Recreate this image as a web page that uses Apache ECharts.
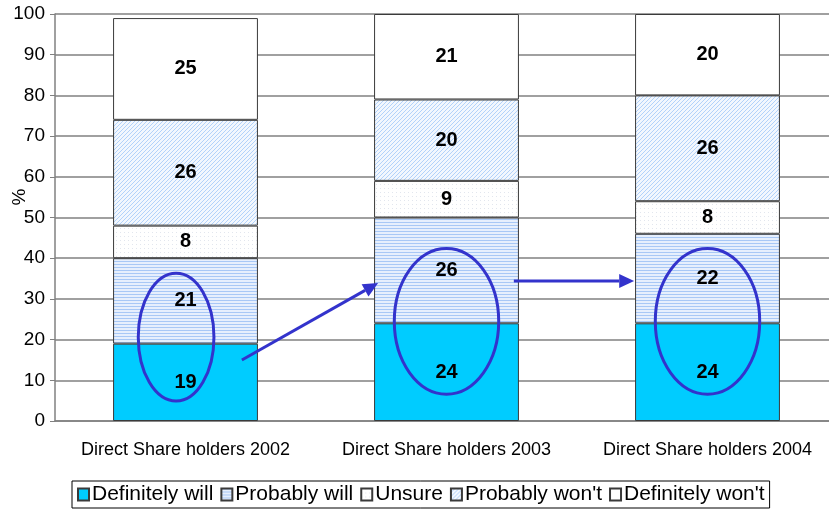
<!DOCTYPE html>
<html lang="en">
<head>
<meta charset="UTF-8">
<title>Direct share holders</title>
<script src="https://cdn.jsdelivr.net/npm/echarts@6/dist/echarts.min.js"></script>
<style>
  html, body { margin: 0; padding: 0; background: #fff; }
  #main { width: 829px; height: 510px; }
</style>
</head>
<body>
<div id="main"></div>
<script type="text/javascript">
var categories = ['Direct Share holders 2002', 'Direct Share holders 2003', 'Direct Share holders 2004'];
var seriesNames = ['Definitely will', 'Probably will', 'Unsure', "Probably won't", "Definitely won't"];
var definitelyWill = [19, 24, 24];
var probablyWill = [21, 26, 22];
var unsure = [8, 9, 8];
var probablyWont = [26, 20, 26];
var definitelyWont = [25, 21, 20];
var yTicks = [0, 10, 20, 30, 40, 50, 60, 70, 80, 90, 100];

// little tiles for the fill patterns
function tile(w, h, draw) {
    var c = document.createElement('canvas');
    c.width = w; c.height = h;
    var ctx = c.getContext('2d');
    draw(ctx);
    return { image: c, repeat: 'repeat' };
}
var stripes = tile(4, 3, function (ctx) {
    ctx.fillStyle = '#e6effd'; ctx.fillRect(0, 0, 4, 3);
    ctx.fillStyle = '#a8c8f6'; ctx.fillRect(0, 0, 4, 1);
});
var dots = tile(4, 4, function (ctx) {
    ctx.fillStyle = '#ffffff'; ctx.fillRect(0, 0, 4, 4);
    ctx.fillStyle = '#e2e6ee'; ctx.fillRect(0, 0, 1, 1);
});
var hatch = tile(4, 4, function (ctx) {
    ctx.fillStyle = '#f2f7fe'; ctx.fillRect(0, 0, 4, 4);
    ctx.fillStyle = '#b2d2fa';
    for (var i = 0; i < 4; i++) ctx.fillRect(i, 3 - i, 1, 1);
});
var fills = ['#00ccff', stripes, dots, hatch, '#ffffff'];
var values = [definitelyWill, probablyWill, unsure, probablyWont, definitelyWont];

var myChart = echarts.init(document.getElementById('main'));

var series = [];
for (var s = 0; s < seriesNames.length; s++) {
    series.push({
        name: seriesNames[s],
        type: 'bar',
        stack: 'total',
        barWidth: '55.5%',
        data: values[s],
        itemStyle: { color: fills[s], borderColor: '#3a3a3a', borderWidth: 1 },
        label: {
            show: true,
            position: 'inside',
            color: '#000',
            fontFamily: 'Liberation Sans',
            fontWeight: 'bold',
            fontSize: 20
        }
    });
}

var option = {
    animation: false,
    textStyle: { fontFamily: 'Liberation Sans' },
    grid: { left: 55, width: 783, top: 14, bottom: 89, outerBoundsMode: 'none', containLabel: false },
    legend: {
        data: seriesNames,
        bottom: 2,
        left: 72,
        icon: 'rect',
        itemWidth: 11,
        itemHeight: 12,
        itemGap: 7,
        padding: [3, 5],
        borderColor: '#000',
        borderWidth: 1,
        textStyle: { fontSize: 21, color: '#000', padding: [0, 0, 0, -2] }
    },
    xAxis: {
        type: 'category',
        data: categories,
        axisTick: { show: false },
        axisLine: { lineStyle: { color: '#808080', width: 1.5 } },
        axisLabel: { color: '#000', fontSize: 18, margin: 20, interval: 0 }
    },
    yAxis: {
        type: 'value',
        min: yTicks[0],
        max: yTicks[yTicks.length - 1],
        interval: 10,
        axisLine: { show: true, lineStyle: { color: '#808080', width: 1.5 } },
        axisTick: { show: true, length: 5, lineStyle: { color: '#808080' } },
        axisLabel: { color: '#000', fontSize: 19, margin: 10 },
        splitLine: { lineStyle: { color: '#808080', width: 1.5 } }
    },
    series: series
};
myChart.setOption(option);

// annotation shapes: ellipses round the two lower segments, arrows between bars
var ellipses = [
    { cat: 0, shift: -0.036, value: 20.6, rx: 0.145, ry: 15.7 },
    { cat: 1, shift: 0, value: 24.5, rx: 0.2, ry: 17.9 },
    { cat: 2, shift: 0, value: 24.5, rx: 0.2, ry: 17.9 }
];
var arrows = [
    { from: [0, 0.216, 15], to: [1, -0.262, 33.9] },
    { from: [1, 0.258, 34.4], to: [2, -0.281, 34.4] }
];

function px(cat, shift, value) {
    var p = myChart.convertToPixel({ gridIndex: 0 }, [cat, value]);
    var band = myChart.convertToPixel({ gridIndex: 0 }, [1, 0])[0] -
               myChart.convertToPixel({ gridIndex: 0 }, [0, 0])[0];
    return [p[0] + shift * band, p[1]];
}
var band = px(1, 0, 0)[0] - px(0, 0, 0)[0];
var unit = px(0, 0, 0)[1] - px(0, 0, 1)[1];
var ink = '#3333cc';
var graphics = [];
ellipses.forEach(function (e) {
    var c = px(e.cat, e.shift, e.value);
    graphics.push({
        type: 'ellipse',
        z: 100,
        shape: { cx: c[0], cy: c[1], rx: e.rx * band, ry: e.ry * unit },
        style: { fill: null, stroke: ink, lineWidth: 3 }
    });
});
arrows.forEach(function (a) {
    var p1 = px(a.from[0], a.from[1], a.from[2]);
    var p2 = px(a.to[0], a.to[1], a.to[2]);
    var ang = Math.atan2(p2[1] - p1[1], p2[0] - p1[0]);
    var L = 15, W = 7;
    var bx = p2[0] - L * Math.cos(ang), by = p2[1] - L * Math.sin(ang);
    graphics.push({
        type: 'line', z: 100,
        shape: { x1: p1[0], y1: p1[1], x2: bx, y2: by },
        style: { stroke: ink, lineWidth: 3 }
    });
    graphics.push({
        type: 'polygon', z: 100,
        shape: { points: [
            [p2[0], p2[1]],
            [bx + W * Math.sin(ang), by - W * Math.cos(ang)],
            [bx - W * Math.sin(ang), by + W * Math.cos(ang)]
        ] },
        style: { fill: ink }
    });
});
var pct = px(0, 0, 55);
graphics.push({
    type: 'text', z: 100,
    x: 20, y: pct[1], rotation: Math.PI / 2,
    style: { text: '%', fontSize: 19, fill: '#000', fontFamily: 'Liberation Sans', align: 'center', verticalAlign: 'middle' }
});
myChart.setOption({ graphic: graphics });
</script>
</body>
</html>
